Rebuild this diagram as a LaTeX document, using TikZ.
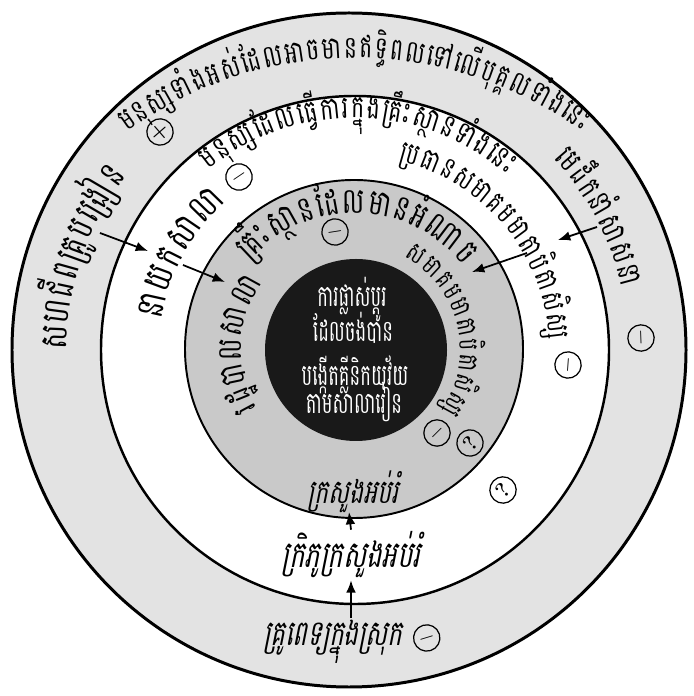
\documentclass[tikz,border=0pt]{standalone}
\usepackage{fontspec}
\newfontfamily\khmer[Script=Khmer,FakeStretch=0.7]{Battambang}
\newfontfamily\khmercore[Script=Khmer,FakeStretch=0.6]{Battambang}
\newfontfamily\khmerslant[Script=Khmer,FakeStretch=0.7,FakeSlant=0.2]{Battambang}
\usetikzlibrary{arrows.meta,positioning,calc}

\newdimen\clusterwd
\newbox\clusterbox
% width of one cluster, typeset outside the picture
\newcommand\measurecluster[2]{%
  \pgfinterruptpicture\global\setbox\clusterbox\hbox{#1#2}\endpgfinterruptpicture
  \global\clusterwd=\wd\clusterbox}
% lay the clusters of one label along an arc round a centre, scaled to fill it
% #1 name, #2 centre, #3 radius, #4 from angle, #5 to angle, #6 font, #7 clusters
\newcommand\arclabel[7]{%
  \xdef\arcsum{0}\xdef\arcnum{0}%
  \foreach \cl in {#7}{%
    \measurecluster{#6}{\cl}%
    \pgfmathsetmacro\arctmp{\arcsum+\the\clusterwd/0.569055}\xdef\arcsum{\arctmp}%
    \pgfmathtruncatemacro\arctmp{\arcnum+1}\xdef\arcnum{\arctmp}%
  }%
  \pgfmathsetmacro\arcdir{(#5>#4) ? 1 : -1}%
  \pgfmathsetmacro\arcscale{min((abs(#5-#4)*pi/180*#3-2*(\arcnum-1))/max(\arcsum,1),2.2)}%
  \xdef\arcpos{0}%
  \foreach \cl [count=\k] in {#7}{%
    \measurecluster{#6}{\cl}%
    \pgfmathsetmacro\arcw{\arcscale*\the\clusterwd/0.569055}%
    \pgfmathsetmacro\arcang{#4+\arcdir*(\arcpos+\arcw/2)/#3*180/pi}%
    \node[anchor=base, inner sep=0pt, font=#6, scale=\arcscale, rotate=\arcang+90*\arcdir]
      (#1-\k) at ($(#2)+(\arcang:#3)$) {\cl};
    \pgfmathsetmacro\arctmp{\arcpos+\arcw+2}\xdef\arcpos{\arctmp}%
  }%
}

\begin{document}
\begin{tikzpicture}[
  x=0.02cm, y=0.02cm,
  ring/.style={draw=black, line width=1.3pt},
  pointer/.style={draw=black, line width=1pt, -{Latex[length=7pt,width=5.5pt]}},
  sign/.style={draw=black, circle, line width=0.7pt, minimum size=15pt, inner sep=0pt,
    font=\bfseries\large},
  core/.style={text=white, font=\khmercore\fontsize{17}{19}\selectfont, inner sep=0pt},
  flat/.style={font=\khmerslant\fontsize{20}{22}\selectfont, inner sep=1pt},
]
\useasboundingbox (0,0) rectangle (693,696);
\fill[white] (0,0) rectangle (693,696);

% Rings, outside in
\coordinate (O1) at (349,346);
\coordinate (O) at (355,346);
\coordinate (Otop) at (355,251);
\filldraw[ring, line width=1.7pt, fill=black!11] (O1) circle (337);
\filldraw[ring, line width=1.4pt, fill=white] (O) circle (254);
\filldraw[ring, line width=1.1pt, fill=black!21] (354,347) circle (169);
\fill[black!90] (356,346) circle (91);

% Centre: the change that is wanted
\node[core] (change1) at (352,396) {ការផ្លាស់ប្តូរ};
\node[core] (change2) at (353,368) {ដែលចង់បាន};
\node[core] (clinic1) at (355,321) {បង្កើតគ្លីនិកយុវ័យ};
\node[core] (clinic2) at (354,294) {តាមសាលារៀន};

% Outer ring
\arclabel{whole}{Otop}{387}{126}{54}{\khmer\fontsize{10}{12}\selectfont}{ម,នុ,ស្ស,ទាំ,ង,អ,ស់,ដែ,ល,អា,ច,មា,ន,ឥ,ទ្ធិ,ព,ល,ទៅ,លើ,បុ,គ្គ,ល,ទាំ,ង,នេះ}
\arclabel{union}{O1}{282}{180}{142}{\khmer\fontsize{10}{12}\selectfont}{ស,ហ,ជី,ព,គ្រូ,ប,ង្រៀ,ន}
\arclabel{monk}{O1}{280}{43}{13}{\khmer\fontsize{10}{12}\selectfont}{មេ,ដឹ,ក,នាំ,សា,ស,នា}
\node[flat, font=\khmerslant\fontsize{20}{22}\selectfont] (doctor) at (333,54) {គ្រូពេទ្យក្នុងស្រុក};

% Middle ring
\arclabel{staff}{O}{232}{129}{49}{\khmer\fontsize{10}{12}\selectfont}{ម,នុ,ស្ស,ដែ,ល,ធ្វើ,កា,រ,ក្នុ,ង,គ្រឹះ,ស្ថា,ន,ទាំ,ង,នេះ}
\arclabel{chair}{O}{194}{77}{3}{\khmer\fontsize{10}{12}\selectfont}{ប្រ,ធា,ន,ស,មា,គ,ម,មា,តា,បិ,តា,សិ,ស្ស}
\arclabel{head}{O}{196}{171}{128}{\khmer\fontsize{10}{12}\selectfont}{នា,យ,ក,សា,លា}
\node[flat, font=\khmerslant\fontsize{21}{23}\selectfont] (delegate) at (351,141) {ក្រិភូក្រសួងអប់រំ};

% Grey ring
\arclabel{power}{O}{137}{140}{38}{\khmer\fontsize{10}{12}\selectfont}{គ្រឹះ,ស្ថា,ន,ដែ,ល,មា,ន,អំ,ណា,ច}
\arclabel{parents}{O}{105}{62}{-35}{\khmer\fontsize{10}{12}\selectfont}{ស,មា,គ,ម,មា,តា,បិ,តា,សិ,ស្ស}
\arclabel{board}{O}{114}{210}{144}{\khmer\fontsize{10}{12}\selectfont}{រ,ដ្ឋ,បា,ល,សា,លា}
\node[flat, font=\khmerslant\fontsize{19}{21}\selectfont] (ministry) at (353,204) {ក្រសួងអប់រំ};

% Signs
\node[sign, rotate=41] (s1) at (160,564) {+};
\node[sign, rotate=34] (s2) at (239,519) {$-$};
\node[sign, rotate=9] (s3) at (335,464) {$-$};
\node[sign, rotate=-88] (s4) at (641,358) {$-$};
\node[sign, rotate=-94] (s5) at (568,331) {$-$};
\node[sign, rotate=45] (s6) at (437,263) {$-$};
\node[sign, rotate=50] (s7) at (470,253) {?};
\node[sign, rotate=47] (s8) at (503,206) {?};
\node[sign, rotate=17, right=5pt of doctor] (s9) {$-$};

% Arrows
\coordinate (unionTail) at (100,463);
\coordinate (unionTip) at (148,445);
\coordinate (headTail) at (183,431);
\coordinate (headTip) at (225,414);
\coordinate (monkTail) at (597,469);
\coordinate (monkTip) at (558,456);
\coordinate (chairTail) at (527,443);
\coordinate (chairTip) at (472,424);
\coordinate (greyEdge) at (349,184);
\draw[pointer] (unionTail) -- (unionTip);
\draw[pointer] (headTail) -- (headTip);
\draw[pointer] (monkTail) -- (monkTip);
\draw[pointer] (chairTail) -- (chairTip);
\draw[pointer] (doctor.north -| delegate) -- (delegate.south);
\draw[pointer] (delegate.north) -- (greyEdge);

\end{tikzpicture}
\end{document}
